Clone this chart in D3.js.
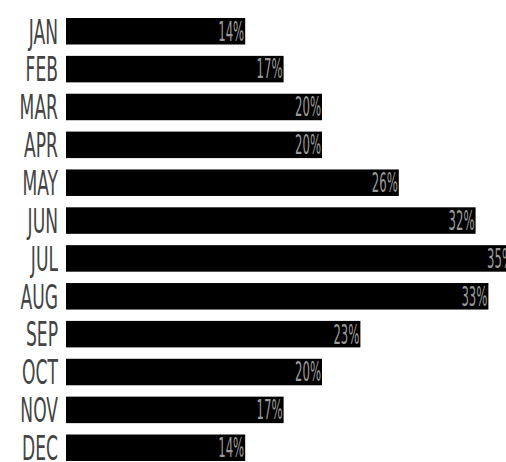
<!DOCTYPE html>
<html>
<head>
<meta charset="utf-8">
<script src="https://cdn.jsdelivr.net/npm/d3@7"></script>
<style>
  body { margin: 0; background: #fff; }
  text { font-family: "Liberation Sans Narrow", "DejaVu Sans Condensed", sans-serif; }
</style>
</head>
<body>
<script>
const WIDTH = 506;
const HEIGHT = 462;

const MONTHS = ["JAN", "FEB", "MAR", "APR", "MAY", "JUN", "JUL", "AUG", "SEP", "OCT", "NOV", "DEC"];
const VALUES = [14, 17, 20, 20, 26, 32, 35, 33, 23, 20, 17, 14];

const data = MONTHS.map((m, i) => ({ month: m, value: VALUES[i] }));

const LEFT = 66;

const svg = d3
    .select("body")
    .append("svg")
    .attr("width", WIDTH)
    .attr("height", HEIGHT);

const y = d3
    .scaleBand()
    .domain(MONTHS)
    .range([18, 461])
    .paddingInner(0.3)
    .paddingOuter(0);

const x = d3
    .scaleLinear()
    .domain([0, 35])
    .range([0, 448]);

const row = svg
    .selectAll(".row")
    .data(data)
    .enter()
    .append("g")
    .attr("class", "row")
    .attr("transform", d => `translate(0,${y(d.month)})`);

row.append("rect")
    .attr("x", LEFT)
    .attr("width", d => x(d.value))
    .attr("height", y.bandwidth())
    .style("fill", "#000");

// squeeze text horizontally, the original uses a very condensed face
const squeeze = (sel, factor) => sel.each(function () {
    const len = this.getComputedTextLength();
    d3.select(this)
        .attr("textLength", len * factor)
        .attr("lengthAdjust", "spacingAndGlyphs");
});

row.append("text")
    .attr("class", "month")
    .attr("x", LEFT - 8)
    .attr("y", y.bandwidth() / 2)
    .attr("dy", "0.36em")
    .attr("text-anchor", "end")
    .style("font-size", "34px")
    .style("fill", "#444")
    .text(d => d.month)
    .call(squeeze, 0.56);

row.append("text")
    .attr("class", "value")
    .attr("x", d => LEFT + x(d.value) - 1)
    .attr("y", y.bandwidth() / 2)
    .attr("dy", "0.36em")
    .attr("text-anchor", "end")
    .style("font-size", "26px")
    .style("fill", "#999")
    .text(d => d.value + "%")
    .call(squeeze, 0.5);
</script>
</body>
</html>
